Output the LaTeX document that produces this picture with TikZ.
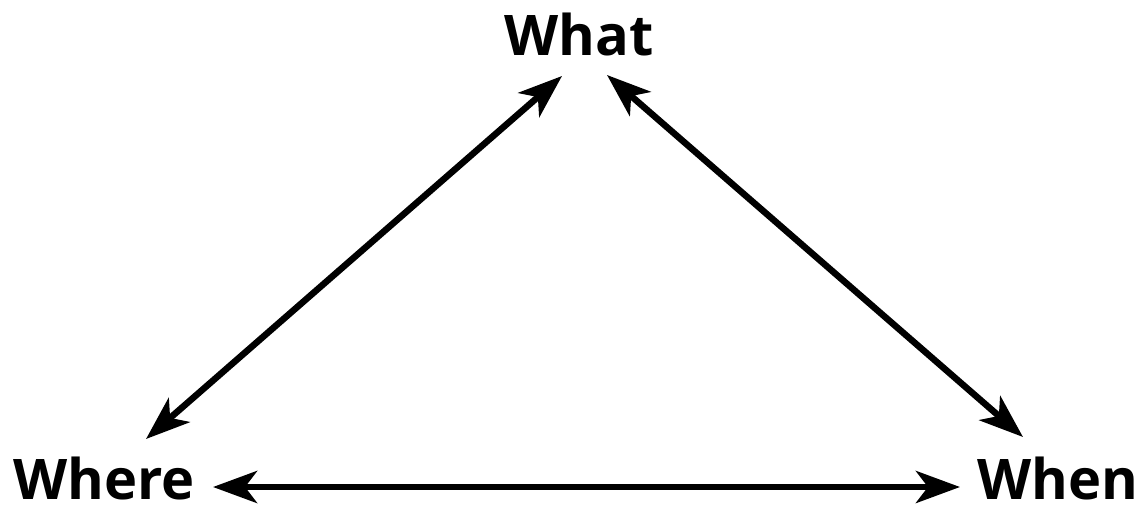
\documentclass[tikz,border=0pt]{standalone}
\usepackage{fontspec}
\setmainfont{Open Sans}
\usetikzlibrary{arrows.meta}
\tikzset{
  lbl/.style={anchor=base, inner sep=0pt, text depth=0pt, font=\fontsize{56}{56}\selectfont\bfseries},
  arr/.style={line width=6.5pt, {Stealth[length=44pt,width=32pt,inset=12pt]}-{Stealth[length=44pt,width=32pt,inset=12pt]}}
}
\begin{document}
\begin{tikzpicture}[x=1pt,y=-1pt]
\useasboundingbox (0,0) rectangle (1146,512);
\node[lbl] (what) at (579,55) {What};
\node[lbl] (where) at (104,499) {Where};
\node[lbl] (when) at (1058,499) {When};
\coordinate (a1) at (146,439);
\coordinate (a2) at (562,76);
\coordinate (b1) at (607,75);
\coordinate (b2) at (1023,437);
\coordinate (c1) at (213,487);
\coordinate (c2) at (960,487);
\draw[arr] (a1) -- (a2);
\draw[arr] (b1) -- (b2);
\draw[arr] (c1) -- (c2);
\end{tikzpicture}
\end{document}
